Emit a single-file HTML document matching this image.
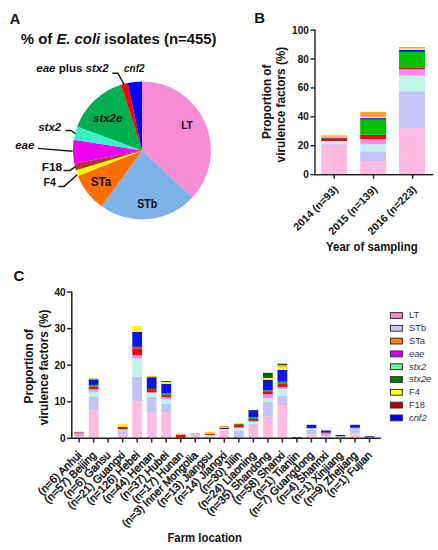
<!DOCTYPE html>
<html><head><meta charset="utf-8"><style>
html,body{margin:0;padding:0;background:#fff;}
svg{display:block;font-family:"Liberation Sans", sans-serif;}
</style></head><body>
<svg width="438" height="550" viewBox="0 0 438 550">
<rect width="438" height="550" fill="#fff"/>
<path d="M142.0,150.4 L142.00,81.40 A69.0,69.0 0 0 1 192.46,197.46 Z" fill="#F68CD4"/>
<path d="M142.0,150.4 L192.46,197.46 A69.0,69.0 0 0 1 101.64,206.36 Z" fill="#7DB3E6"/>
<path d="M142.0,150.4 L101.64,206.36 A69.0,69.0 0 0 1 77.89,175.91 Z" fill="#FF6E00"/>
<path d="M142.0,150.4 L77.89,175.91 A69.0,69.0 0 0 1 75.94,170.34 Z" fill="#FFFF00"/>
<path d="M142.0,150.4 L75.94,170.34 A69.0,69.0 0 0 1 74.31,163.80 Z" fill="#B03232"/>
<path d="M142.0,150.4 L74.31,163.80 A69.0,69.0 0 0 1 73.81,139.84 Z" fill="#F000F0"/>
<path d="M142.0,150.4 L73.81,139.84 A69.0,69.0 0 0 1 77.24,126.57 Z" fill="#3CF0C8"/>
<path d="M142.0,150.4 L77.24,126.57 A69.0,69.0 0 0 1 121.14,84.63 Z" fill="#00AE50"/>
<path d="M142.0,150.4 L121.14,84.63 A69.0,69.0 0 0 1 127.65,82.91 Z" fill="#FF0000"/>
<path d="M142.0,150.4 L127.65,82.91 A69.0,69.0 0 0 1 142.00,81.40 Z" fill="#0000FF"/>
<polyline fill="none" stroke="#1a1a1a" stroke-width="1.45" points="112.3,73.2 118,73.2 123.9,84.3"/>
<polyline fill="none" stroke="#1a1a1a" stroke-width="1.45" points="65.5,130.5 70.8,130.5 75.6,133.7"/>
<polyline fill="none" stroke="#1a1a1a" stroke-width="1.45" points="37.9,148.4 72.7,151.2"/>
<polyline fill="none" stroke="#1a1a1a" stroke-width="1.45" points="63.5,170.4 69.9,170.4 75.6,166.7"/>
<polyline fill="none" stroke="#1a1a1a" stroke-width="1.45" points="58.4,186.4 64,186.4 77.2,174.7"/>
<text x="9.8" y="23.9" font-size="14.6" font-weight="bold" font-style="normal" text-anchor="start" fill="#111" >A</text>
<text x="20.8" y="44" font-size="14.9" font-weight="bold" fill="#111">% of <tspan font-style="italic">E. coli</tspan> isolates (n=455)</text>
<text x="36.3" y="72.2" font-size="11.5" font-weight="bold" fill="#111"><tspan font-style="italic">eae</tspan> plus <tspan font-style="italic">stx2</tspan></text>
<text x="124" y="72" font-size="11.5" font-weight="bold" font-style="italic" text-anchor="start" fill="#111" textLength="20.5" lengthAdjust="spacingAndGlyphs">cnf2</text>
<text x="93" y="121.9" font-size="11.5" font-weight="bold" font-style="italic" text-anchor="start" fill="#111" >stx2e</text>
<text x="181.2" y="128.7" font-size="11.6" font-weight="bold" font-style="normal" text-anchor="start" fill="#111" textLength="11.6" lengthAdjust="spacingAndGlyphs">LT</text>
<text x="38.2" y="131.3" font-size="11.5" font-weight="bold" font-style="italic" text-anchor="start" fill="#111" >stx2</text>
<text x="15.2" y="149.2" font-size="11.5" font-weight="bold" font-style="italic" text-anchor="start" fill="#111" >eae</text>
<text x="41.8" y="170.7" font-size="11.5" font-weight="bold" font-style="normal" text-anchor="start" fill="#111" textLength="20.4" lengthAdjust="spacingAndGlyphs">F18</text>
<text x="43.5" y="186.4" font-size="11.5" font-weight="bold" font-style="normal" text-anchor="start" fill="#111" textLength="12.4" lengthAdjust="spacingAndGlyphs">F4</text>
<text x="90.8" y="185.9" font-size="12" font-weight="bold" font-style="normal" text-anchor="start" fill="#111" textLength="20.4" lengthAdjust="spacingAndGlyphs">STa</text>
<text x="137.3" y="207.8" font-size="12" font-weight="bold" font-style="normal" text-anchor="start" fill="#111" textLength="20" lengthAdjust="spacingAndGlyphs">STb</text>
<text x="254.3" y="23.4" font-size="14.9" font-weight="bold" font-style="normal" text-anchor="start" fill="#111" >B</text>
<line x1="315.0" y1="29.6" x2="315.0" y2="175.2" stroke="#222" stroke-width="1.4"/>
<line x1="314.4" y1="174.6" x2="433.2" y2="174.6" stroke="#222" stroke-width="1.4"/>
<line x1="310.5" y1="174.60" x2="315.0" y2="174.60" stroke="#222" stroke-width="1.4"/>
<text x="308.8" y="178.1" font-size="10" font-weight="bold" font-style="normal" text-anchor="end" fill="#111" >0</text>
<line x1="310.5" y1="145.70" x2="315.0" y2="145.70" stroke="#222" stroke-width="1.4"/>
<text x="308.8" y="149.2" font-size="10" font-weight="bold" font-style="normal" text-anchor="end" fill="#111" >20</text>
<line x1="310.5" y1="116.80" x2="315.0" y2="116.80" stroke="#222" stroke-width="1.4"/>
<text x="308.8" y="120.29999999999998" font-size="10" font-weight="bold" font-style="normal" text-anchor="end" fill="#111" >40</text>
<line x1="310.5" y1="87.90" x2="315.0" y2="87.90" stroke="#222" stroke-width="1.4"/>
<text x="308.8" y="91.39999999999999" font-size="10" font-weight="bold" font-style="normal" text-anchor="end" fill="#111" >60</text>
<line x1="310.5" y1="59.00" x2="315.0" y2="59.00" stroke="#222" stroke-width="1.4"/>
<text x="308.8" y="62.499999999999986" font-size="10" font-weight="bold" font-style="normal" text-anchor="end" fill="#111" >80</text>
<line x1="310.5" y1="30.10" x2="315.0" y2="30.10" stroke="#222" stroke-width="1.4"/>
<text x="308.8" y="33.599999999999994" font-size="10" font-weight="bold" font-style="normal" text-anchor="end" fill="#111" >100</text>
<line x1="334.3" y1="174.6" x2="334.3" y2="178.79999999999998" stroke="#222" stroke-width="1.4"/>
<line x1="373.5" y1="174.6" x2="373.5" y2="178.79999999999998" stroke="#222" stroke-width="1.4"/>
<line x1="412.7" y1="174.6" x2="412.7" y2="178.79999999999998" stroke="#222" stroke-width="1.4"/>
<rect x="321.2" y="144.8" width="25.90" height="29.50" fill="#FFBCE0"/>
<rect x="321.2" y="143.7" width="25.90" height="1.10" fill="#C3C3FA"/>
<rect x="321.2" y="141.7" width="25.90" height="2.00" fill="#BDF5E6"/>
<rect x="321.2" y="141" width="25.90" height="0.70" fill="#F8DDF0"/>
<rect x="321.2" y="138.8" width="25.90" height="2.20" fill="#FF0000"/>
<rect x="321.2" y="138" width="25.90" height="0.80" fill="#7A1A8A"/>
<rect x="321.2" y="136.6" width="25.90" height="1.40" fill="#E6C800"/>
<rect x="321.2" y="135.4" width="25.90" height="1.20" fill="#FF9A30"/>
<rect x="360.2" y="161" width="25.90" height="13.30" fill="#FFBCE0"/>
<rect x="360.2" y="151.4" width="25.90" height="9.60" fill="#C3C3FA"/>
<rect x="360.2" y="144.3" width="25.90" height="7.10" fill="#BDF5E6"/>
<rect x="360.2" y="139.1" width="25.90" height="5.20" fill="#FA8CF2"/>
<rect x="360.2" y="134.8" width="25.90" height="4.30" fill="#FF0000"/>
<rect x="360.2" y="119.7" width="25.90" height="15.10" fill="#00C000"/>
<rect x="360.2" y="118.1" width="25.90" height="1.60" fill="#0A14E6"/>
<rect x="360.2" y="117" width="25.90" height="1.10" fill="#FFF700"/>
<rect x="360.2" y="111.8" width="25.90" height="5.20" fill="#FFA040"/>
<rect x="399" y="128.2" width="26.00" height="46.10" fill="#FFBCE0"/>
<rect x="399" y="91.3" width="26.00" height="36.90" fill="#C3C3FA"/>
<rect x="399" y="75.7" width="26.00" height="15.60" fill="#BDF5E6"/>
<rect x="399" y="69" width="26.00" height="6.70" fill="#FA8CF2"/>
<rect x="399" y="68" width="26.00" height="1.00" fill="#FF0000"/>
<rect x="399" y="51.9" width="26.00" height="16.10" fill="#00C000"/>
<rect x="399" y="49.9" width="26.00" height="2.00" fill="#0A14E6"/>
<rect x="399" y="48.5" width="26.00" height="1.40" fill="#FFF700"/>
<rect x="399" y="47" width="26.00" height="1.50" fill="#FFA040"/>
<line x1="314.4" y1="174.6" x2="433.2" y2="174.6" stroke="#222" stroke-width="1.4"/>
<text transform="translate(270.8,101.8) rotate(-90)" font-size="12.4" font-weight="bold" text-anchor="middle" fill="#111" textLength="74.5" lengthAdjust="spacingAndGlyphs">Proportion of</text>
<text transform="translate(284.9,104.6) rotate(-90)" font-size="12.4" font-weight="bold" text-anchor="middle" fill="#111" textLength="115.6" lengthAdjust="spacingAndGlyphs">virulence factors (%)</text>
<text transform="translate(338.7,190.2) rotate(-45)" font-size="10.6" font-weight="bold" text-anchor="end" fill="#111">2014 (n=93)</text>
<text transform="translate(377.9,190.2) rotate(-45)" font-size="10.6" font-weight="bold" text-anchor="end" fill="#111">2015 (n=139)</text>
<text transform="translate(417.09999999999997,190.2) rotate(-45)" font-size="10.6" font-weight="bold" text-anchor="end" fill="#111">2016 (n=223)</text>
<text x="326.1" y="251" font-size="12.4" font-weight="bold" font-style="normal" text-anchor="start" fill="#111" textLength="91.6" lengthAdjust="spacingAndGlyphs">Year of sampling</text>
<text x="13.5" y="281.3" font-size="14.9" font-weight="bold" font-style="normal" text-anchor="start" fill="#111" >C</text>
<line x1="71.8" y1="291.5" x2="71.8" y2="438.90000000000003" stroke="#222" stroke-width="1.5"/>
<line x1="67.0" y1="438.30" x2="71.8" y2="438.30" stroke="#222" stroke-width="1.4"/>
<text x="65.6" y="441.90000000000003" font-size="10" font-weight="bold" font-style="normal" text-anchor="end" fill="#111" >0</text>
<line x1="67.0" y1="401.75" x2="71.8" y2="401.75" stroke="#222" stroke-width="1.4"/>
<text x="65.6" y="405.35" font-size="10" font-weight="bold" font-style="normal" text-anchor="end" fill="#111" >10</text>
<line x1="67.0" y1="365.20" x2="71.8" y2="365.20" stroke="#222" stroke-width="1.4"/>
<text x="65.6" y="368.80000000000007" font-size="10" font-weight="bold" font-style="normal" text-anchor="end" fill="#111" >20</text>
<line x1="67.0" y1="328.65" x2="71.8" y2="328.65" stroke="#222" stroke-width="1.4"/>
<text x="65.6" y="332.25000000000006" font-size="10" font-weight="bold" font-style="normal" text-anchor="end" fill="#111" >30</text>
<line x1="67.0" y1="292.10" x2="71.8" y2="292.10" stroke="#222" stroke-width="1.4"/>
<text x="65.6" y="295.70000000000005" font-size="10" font-weight="bold" font-style="normal" text-anchor="end" fill="#111" >40</text>
<line x1="79.10" y1="438.3" x2="79.10" y2="442.5" stroke="#222" stroke-width="1.5"/>
<line x1="93.62" y1="438.3" x2="93.62" y2="442.5" stroke="#222" stroke-width="1.5"/>
<line x1="108.14" y1="438.3" x2="108.14" y2="442.5" stroke="#222" stroke-width="1.5"/>
<line x1="122.66" y1="438.3" x2="122.66" y2="442.5" stroke="#222" stroke-width="1.5"/>
<line x1="137.18" y1="438.3" x2="137.18" y2="442.5" stroke="#222" stroke-width="1.5"/>
<line x1="151.70" y1="438.3" x2="151.70" y2="442.5" stroke="#222" stroke-width="1.5"/>
<line x1="166.22" y1="438.3" x2="166.22" y2="442.5" stroke="#222" stroke-width="1.5"/>
<line x1="180.74" y1="438.3" x2="180.74" y2="442.5" stroke="#222" stroke-width="1.5"/>
<line x1="195.26" y1="438.3" x2="195.26" y2="442.5" stroke="#222" stroke-width="1.5"/>
<line x1="209.78" y1="438.3" x2="209.78" y2="442.5" stroke="#222" stroke-width="1.5"/>
<line x1="224.30" y1="438.3" x2="224.30" y2="442.5" stroke="#222" stroke-width="1.5"/>
<line x1="238.82" y1="438.3" x2="238.82" y2="442.5" stroke="#222" stroke-width="1.5"/>
<line x1="253.34" y1="438.3" x2="253.34" y2="442.5" stroke="#222" stroke-width="1.5"/>
<line x1="267.86" y1="438.3" x2="267.86" y2="442.5" stroke="#222" stroke-width="1.5"/>
<line x1="282.38" y1="438.3" x2="282.38" y2="442.5" stroke="#222" stroke-width="1.5"/>
<line x1="296.90" y1="438.3" x2="296.90" y2="442.5" stroke="#222" stroke-width="1.5"/>
<line x1="311.42" y1="438.3" x2="311.42" y2="442.5" stroke="#222" stroke-width="1.5"/>
<line x1="325.94" y1="438.3" x2="325.94" y2="442.5" stroke="#222" stroke-width="1.5"/>
<line x1="340.46" y1="438.3" x2="340.46" y2="442.5" stroke="#222" stroke-width="1.5"/>
<line x1="354.98" y1="438.3" x2="354.98" y2="442.5" stroke="#222" stroke-width="1.5"/>
<line x1="369.50" y1="438.3" x2="369.50" y2="442.5" stroke="#222" stroke-width="1.5"/>
<rect x="74.2" y="436" width="9.80" height="1.80" fill="#FFBCE0"/>
<rect x="74.2" y="434.1" width="9.80" height="1.90" fill="#A8AEF2"/>
<rect x="74.2" y="433.7" width="9.80" height="0.40" fill="#BDF5E6"/>
<rect x="74.2" y="431.8" width="9.80" height="1.90" fill="#F25A80"/>
<rect x="88.72" y="410.5" width="9.80" height="27.30" fill="#FFBCE0"/>
<rect x="88.72" y="396.9" width="9.80" height="13.60" fill="#C3C3FA"/>
<rect x="88.72" y="391.7" width="9.80" height="5.20" fill="#BDF5E6"/>
<rect x="88.72" y="388.9" width="9.80" height="2.80" fill="#FA8CF2"/>
<rect x="88.72" y="386.5" width="9.80" height="2.40" fill="#FF0000"/>
<rect x="88.72" y="384.9" width="9.80" height="1.60" fill="#00B040"/>
<rect x="88.72" y="379.9" width="9.80" height="5.00" fill="#0A14E6"/>
<rect x="88.72" y="378.5" width="9.80" height="1.40" fill="#6E9E10"/>
<rect x="117.76" y="434.1" width="9.80" height="3.70" fill="#FFBCE0"/>
<rect x="117.76" y="431" width="9.80" height="3.10" fill="#C3C3FA"/>
<rect x="117.76" y="429.2" width="9.80" height="1.80" fill="#BDF5E6"/>
<rect x="117.76" y="426.9" width="9.80" height="2.30" fill="#FF0000"/>
<rect x="117.76" y="424.2" width="9.80" height="2.70" fill="#FFF700"/>
<rect x="132.28" y="401.2" width="9.80" height="36.60" fill="#FFBCE0"/>
<rect x="132.28" y="376.7" width="9.80" height="24.50" fill="#C3C3FA"/>
<rect x="132.28" y="358.4" width="9.80" height="18.30" fill="#BDF5E6"/>
<rect x="132.28" y="355.1" width="9.80" height="3.30" fill="#FA8CF2"/>
<rect x="132.28" y="348.2" width="9.80" height="6.90" fill="#FF0000"/>
<rect x="132.28" y="346.9" width="9.80" height="1.30" fill="#00B040"/>
<rect x="132.28" y="331.8" width="9.80" height="15.10" fill="#0A14E6"/>
<rect x="132.28" y="326" width="9.80" height="5.80" fill="#FFF700"/>
<rect x="146.8" y="412.7" width="9.80" height="25.10" fill="#FFBCE0"/>
<rect x="146.8" y="396.8" width="9.80" height="15.90" fill="#C3C3FA"/>
<rect x="146.8" y="392.4" width="9.80" height="4.40" fill="#BDF5E6"/>
<rect x="146.8" y="389.1" width="9.80" height="3.30" fill="#FF0000"/>
<rect x="146.8" y="388" width="9.80" height="1.10" fill="#006000"/>
<rect x="146.8" y="377.2" width="9.80" height="10.80" fill="#0A14E6"/>
<rect x="146.8" y="376" width="9.80" height="1.20" fill="#FFC000"/>
<rect x="161.32" y="412" width="9.80" height="25.80" fill="#FFBCE0"/>
<rect x="161.32" y="404" width="9.80" height="8.00" fill="#C3C3FA"/>
<rect x="161.32" y="399.5" width="9.80" height="4.50" fill="#BDF5E6"/>
<rect x="161.32" y="397.1" width="9.80" height="2.40" fill="#FA8CF2"/>
<rect x="161.32" y="394.9" width="9.80" height="2.20" fill="#FF0000"/>
<rect x="161.32" y="393" width="9.80" height="1.90" fill="#00B040"/>
<rect x="161.32" y="384" width="9.80" height="9.00" fill="#0A14E6"/>
<rect x="161.32" y="382" width="9.80" height="2.00" fill="#FFF700"/>
<rect x="161.32" y="381.1" width="9.80" height="0.90" fill="#006000"/>
<rect x="175.84" y="434.9" width="9.80" height="2.90" fill="#FF0000"/>
<rect x="175.84" y="434" width="9.80" height="0.90" fill="#FFA000"/>
<rect x="190.36" y="436" width="9.80" height="1.80" fill="#FFBCE0"/>
<rect x="190.36" y="433.8" width="9.80" height="2.00" fill="#C3C3FA"/>
<rect x="190.36" y="433" width="9.80" height="0.80" fill="#F8B080"/>
<rect x="204.88" y="436.3" width="9.80" height="1.50" fill="#C3C3FA"/>
<rect x="204.88" y="434.9" width="9.80" height="1.40" fill="#BDF5E6"/>
<rect x="204.88" y="433.8" width="9.80" height="1.10" fill="#FF0000"/>
<rect x="204.88" y="431.8" width="9.80" height="2.00" fill="#FFC020"/>
<rect x="219.4" y="430.8" width="9.80" height="7.00" fill="#FFBCE0"/>
<rect x="219.4" y="429.1" width="9.80" height="1.70" fill="#BDF5E6"/>
<rect x="219.4" y="427.7" width="9.80" height="1.40" fill="#7A1A8A"/>
<rect x="219.4" y="427.4" width="9.80" height="0.30" fill="#FFF700"/>
<rect x="219.4" y="425.9" width="9.80" height="1.50" fill="#FFA040"/>
<rect x="233.92" y="430.5" width="9.80" height="7.30" fill="#C3C3FA"/>
<rect x="233.92" y="427.5" width="9.80" height="3.00" fill="#BDF5E6"/>
<rect x="233.92" y="425" width="9.80" height="2.50" fill="#FF0000"/>
<rect x="233.92" y="424.2" width="9.80" height="0.80" fill="#006000"/>
<rect x="233.92" y="423.5" width="9.80" height="0.70" fill="#A0D000"/>
<rect x="248.44" y="424.9" width="9.80" height="12.90" fill="#FFBCE0"/>
<rect x="248.44" y="423.9" width="9.80" height="1.00" fill="#C3C3FA"/>
<rect x="248.44" y="422" width="9.80" height="1.90" fill="#BDF5E6"/>
<rect x="248.44" y="420.9" width="9.80" height="1.10" fill="#FA8CF2"/>
<rect x="248.44" y="419" width="9.80" height="1.90" fill="#FF0000"/>
<rect x="248.44" y="417.4" width="9.80" height="1.60" fill="#00B040"/>
<rect x="248.44" y="410.9" width="9.80" height="6.50" fill="#0A14E6"/>
<rect x="248.44" y="409.9" width="9.80" height="1.00" fill="#006000"/>
<rect x="262.96" y="416.8" width="9.80" height="21.00" fill="#FFBCE0"/>
<rect x="262.96" y="402" width="9.80" height="14.80" fill="#C3C3FA"/>
<rect x="262.96" y="398.5" width="9.80" height="3.50" fill="#BDF5E6"/>
<rect x="262.96" y="394.2" width="9.80" height="4.30" fill="#FA8CF2"/>
<rect x="262.96" y="392" width="9.80" height="2.20" fill="#FF0000"/>
<rect x="262.96" y="390.3" width="9.80" height="1.70" fill="#00B040"/>
<rect x="262.96" y="380" width="9.80" height="10.30" fill="#0A14E6"/>
<rect x="262.96" y="377.9" width="9.80" height="2.10" fill="#FFF700"/>
<rect x="262.96" y="372.8" width="9.80" height="5.10" fill="#006000"/>
<rect x="277.48" y="405.1" width="9.80" height="32.70" fill="#FFBCE0"/>
<rect x="277.48" y="395.5" width="9.80" height="9.60" fill="#C3C3FA"/>
<rect x="277.48" y="389" width="9.80" height="6.50" fill="#BDF5E6"/>
<rect x="277.48" y="386.9" width="9.80" height="2.10" fill="#FA8CF2"/>
<rect x="277.48" y="383.3" width="9.80" height="3.60" fill="#FF0000"/>
<rect x="277.48" y="381.7" width="9.80" height="1.60" fill="#00B040"/>
<rect x="277.48" y="369.8" width="9.80" height="11.90" fill="#0A14E6"/>
<rect x="277.48" y="366.7" width="9.80" height="3.10" fill="#FFF700"/>
<rect x="277.48" y="365" width="9.80" height="1.70" fill="#FFA040"/>
<rect x="277.48" y="363.7" width="9.80" height="1.30" fill="#006000"/>
<rect x="292.0" y="437.0" width="9.80" height="0.80" fill="#0A14E6"/>
<rect x="306.52" y="434.5" width="9.80" height="3.30" fill="#FFBCE0"/>
<rect x="306.52" y="429.9" width="9.80" height="4.60" fill="#C3C3FA"/>
<rect x="306.52" y="428.2" width="9.80" height="1.70" fill="#BDF5E6"/>
<rect x="306.52" y="424.8" width="9.80" height="3.40" fill="#0A14E6"/>
<rect x="321.04" y="436.2" width="9.80" height="1.60" fill="#FFBCE0"/>
<rect x="321.04" y="435.8" width="9.80" height="0.40" fill="#E8E0FC"/>
<rect x="321.04" y="433.7" width="9.80" height="2.10" fill="#A8B0F8"/>
<rect x="321.04" y="432.9" width="9.80" height="0.80" fill="#F06088"/>
<rect x="321.04" y="432.2" width="9.80" height="0.70" fill="#A00050"/>
<rect x="321.04" y="430.5" width="9.80" height="1.70" fill="#0A14E6"/>
<rect x="335.56" y="436.1" width="9.80" height="1.70" fill="#C3C3FA"/>
<rect x="335.56" y="435" width="9.80" height="1.10" fill="#0A14E6"/>
<rect x="350.08" y="433.5" width="9.80" height="4.30" fill="#FFBCE0"/>
<rect x="350.08" y="427.8" width="9.80" height="5.70" fill="#C3C3FA"/>
<rect x="350.08" y="424.8" width="9.80" height="3.00" fill="#0A14E6"/>
<rect x="364.6" y="436.0" width="9.80" height="1.80" fill="#5A64E6"/>
<line x1="71.1" y1="438.3" x2="380.8" y2="438.3" stroke="#222" stroke-width="1.5"/>
<text transform="translate(33.4,366.2) rotate(-90)" font-size="12.4" font-weight="bold" text-anchor="middle" fill="#111" textLength="74.5" lengthAdjust="spacingAndGlyphs">Proportion of</text>
<text transform="translate(47.8,367.5) rotate(-90)" font-size="12.4" font-weight="bold" text-anchor="middle" fill="#111" textLength="115.6" lengthAdjust="spacingAndGlyphs">virulence factors (%)</text>
<text transform="translate(82.30,455.8) rotate(-45)" font-size="11" text-anchor="end" fill="#111" stroke="#111" stroke-width="0.45">(n=6) Anhui</text>
<text transform="translate(96.82,455.8) rotate(-45)" font-size="11" text-anchor="end" fill="#111" stroke="#111" stroke-width="0.45">(n=57) Beijing</text>
<text transform="translate(111.34,455.8) rotate(-45)" font-size="11" text-anchor="end" fill="#111" stroke="#111" stroke-width="0.45">(n=6) Gansu</text>
<text transform="translate(125.86,455.8) rotate(-45)" font-size="11" text-anchor="end" fill="#111" stroke="#111" stroke-width="0.45">(n=21) Guangxi</text>
<text transform="translate(140.38,455.8) rotate(-45)" font-size="11" text-anchor="end" fill="#111" stroke="#111" stroke-width="0.45">(n=126) Hebei</text>
<text transform="translate(154.90,455.8) rotate(-45)" font-size="11" text-anchor="end" fill="#111" stroke="#111" stroke-width="0.45">(n=44) Henan</text>
<text transform="translate(169.42,455.8) rotate(-45)" font-size="11" text-anchor="end" fill="#111" stroke="#111" stroke-width="0.45">(n=37) Hubei</text>
<text transform="translate(183.94,455.8) rotate(-45)" font-size="11" text-anchor="end" fill="#111" stroke="#111" stroke-width="0.45">(n=17) Hunan</text>
<text transform="translate(198.46,455.8) rotate(-45)" font-size="11" text-anchor="end" fill="#111" stroke="#111" stroke-width="0.45">(n=3) Inner Mongolia</text>
<text transform="translate(212.98,455.8) rotate(-45)" font-size="11" text-anchor="end" fill="#111" stroke="#111" stroke-width="0.45">(n=13) Jiangsu</text>
<text transform="translate(227.50,455.8) rotate(-45)" font-size="11" text-anchor="end" fill="#111" stroke="#111" stroke-width="0.45">(n=14) Jiangxi</text>
<text transform="translate(242.02,455.8) rotate(-45)" font-size="11" text-anchor="end" fill="#111" stroke="#111" stroke-width="0.45">(n=30) Jilin</text>
<text transform="translate(256.54,455.8) rotate(-45)" font-size="11" text-anchor="end" fill="#111" stroke="#111" stroke-width="0.45">(n=24) Liaoning</text>
<text transform="translate(271.06,455.8) rotate(-45)" font-size="11" text-anchor="end" fill="#111" stroke="#111" stroke-width="0.45">(n=35) Shandong</text>
<text transform="translate(285.58,455.8) rotate(-45)" font-size="11" text-anchor="end" fill="#111" stroke="#111" stroke-width="0.45">(n=58) Shanxi</text>
<text transform="translate(300.10,455.8) rotate(-45)" font-size="11" text-anchor="end" fill="#111" stroke="#111" stroke-width="0.45">(n=1) Tianjin</text>
<text transform="translate(314.62,455.8) rotate(-45)" font-size="11" text-anchor="end" fill="#111" stroke="#111" stroke-width="0.45">(n=7) Guangdong</text>
<text transform="translate(329.14,455.8) rotate(-45)" font-size="11" text-anchor="end" fill="#111" stroke="#111" stroke-width="0.45">(n=4) Shannxi</text>
<text transform="translate(343.66,455.8) rotate(-45)" font-size="11" text-anchor="end" fill="#111" stroke="#111" stroke-width="0.45">(n=1) Xinjiang</text>
<text transform="translate(358.18,455.8) rotate(-45)" font-size="11" text-anchor="end" fill="#111" stroke="#111" stroke-width="0.45">(n=9) Zhejiang</text>
<text transform="translate(372.70,455.8) rotate(-45)" font-size="11" text-anchor="end" fill="#111" stroke="#111" stroke-width="0.45">(n=1) Fujian</text>
<text x="167.4" y="541.7" font-size="12.4" font-weight="bold" font-style="normal" text-anchor="start" fill="#111" textLength="74.6" lengthAdjust="spacingAndGlyphs">Farm location</text>
<rect x="390.4" y="312.60" width="12" height="5.8" fill="#FF88CC" stroke="#333" stroke-width="1"/>
<text x="409" y="318.40" font-size="9.3" font-style="normal" fill="#333">LT</text>
<rect x="390.4" y="325.40" width="12" height="5.8" fill="#C8C8FF" stroke="#333" stroke-width="1"/>
<text x="409" y="331.20" font-size="9.3" font-style="normal" fill="#333">STb</text>
<rect x="390.4" y="338.20" width="12" height="5.8" fill="#FF8000" stroke="#333" stroke-width="1"/>
<text x="409" y="344.00" font-size="9.3" font-style="normal" fill="#333">STa</text>
<rect x="390.4" y="351.00" width="12" height="5.8" fill="#CC00FF" stroke="#333" stroke-width="1"/>
<text x="409" y="356.80" font-size="9.3" font-style="italic" fill="#333">eae</text>
<rect x="390.4" y="363.80" width="12" height="5.8" fill="#66FF99" stroke="#333" stroke-width="1"/>
<text x="409" y="369.60" font-size="9.3" font-style="italic" fill="#333">stx2</text>
<rect x="390.4" y="376.60" width="12" height="5.8" fill="#008000" stroke="#333" stroke-width="1"/>
<text x="409" y="382.40" font-size="9.3" font-style="italic" fill="#333">stx2e</text>
<rect x="390.4" y="389.40" width="12" height="5.8" fill="#FFFF00" stroke="#333" stroke-width="1"/>
<text x="409" y="395.20" font-size="9.3" font-style="normal" fill="#333">F4</text>
<rect x="390.4" y="402.20" width="12" height="5.8" fill="#C00000" stroke="#333" stroke-width="1"/>
<text x="409" y="408.00" font-size="9.3" font-style="normal" fill="#333">F18</text>
<rect x="390.4" y="415.00" width="12" height="5.8" fill="#0000FF" stroke="#333" stroke-width="1"/>
<text x="409" y="420.80" font-size="9.3" font-style="italic" fill="#333">cnf2</text>
</svg>
</body></html>
